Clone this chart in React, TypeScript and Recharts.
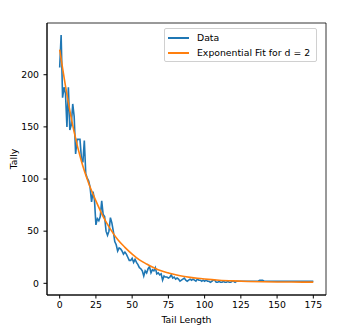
import React from 'react'
import { LineChart, Line, XAxis, YAxis, Legend, ReferenceArea } from 'recharts'

// observed tally per tail length (index = tail length)
const tally = [
  207, 238, 178, 188, 182, 150, 188, 147, 152, 172,
  160, 124, 138, 138, 138, 120, 116, 137, 105, 101,
  98, 92, 78, 88, 80, 56, 62, 60, 64, 79,
  66, 64, 50, 46, 50, 63, 58, 50, 40, 37,
  31, 34, 33, 31, 28, 30, 28, 25, 22, 22,
  24, 20, 23, 20, 18, 15, 14, 12, 7, 12,
  10, 14, 16, 10, 13, 12, 15, 9, 10, 8,
  9, 3, 7, 6, 6, 5, 6, 8, 5, 6,
  4, 5, 4, 2, 3, 4, 5, 3, 2, 3,
  4, 3, 4, 3, 2, 4, 3, 3, 2, 3,
  2, 3, 2, 2, 1, 2, 3, 3, 1, 1,
  2, 1, 1, 2, 1, 1, 2, 1, 1, 2,
  2, 1, 2, 2, 2, 2, 2, 2, 2, 2,
  2, 2, 2, 2, 2, 2, 2, 2, 3, 3,
  3, 2, 2, 2, 2, 2, 2, 2, 2, 2,
  2, 2, 2, 2, 2, 2, 2, 2, 2, 2,
  2, 2, 2, 2, 2, 2, 2, 2, 2, 2,
  2, 2, 2, 2, 2, 2,
]

// fitted curve
const fitX = [0, 5, 10, 15, 20, 25, 30, 35, 40, 45, 50, 55, 60, 65, 70, 75, 80, 85, 90, 95, 100, 110, 120, 130, 140, 150, 160, 175]
const fitY = [224, 181, 145, 117, 96, 79, 64, 52, 42, 34.5, 28, 22.5, 18.5, 15, 12, 10, 8.2, 6.8, 5.7, 4.8, 4.1, 3, 2.3, 1.8, 1.5, 1.3, 1.2, 1.1]

const xTicks = [0, 25, 50, 75, 100, 125, 150, 175]
const yTicks = [0, 50, 100, 150, 200]

const xDomain = [-8.75, 183.75]
const yDomain = [-11.2, 249.6]

const dataPoints = tally.map((v, i) => ({ x: i, y: v }))
const fitPoints = fitX.map((x, i) => ({ x, y: fitY[i] }))

const font = 'DejaVu Sans, sans-serif'
const tickStyle = { fontSize: 9.3, fill: '#000', fontFamily: font }

function LegendBox() {
  const row = (color: string, label: string) => (
    <div style={{ display: 'flex', alignItems: 'center', height: 15 }}>
      <span style={{ display: 'inline-block', width: 21, height: 2, background: color, marginRight: 8 }} />
      <span>{label}</span>
    </div>
  )
  return (
    <div
      style={{
        border: '1px solid #d0d0d0',
        borderRadius: 2,
        background: '#fff',
        padding: '1px 6px 1px 3px',
        fontFamily: font,
        fontSize: 9.3,
        color: '#000',
      }}
    >
      {row('#1f77b4', 'Data')}
      {row('#ff7f0e', 'Exponential Fit for d = 2')}
    </div>
  )
}

export default function App() {
  return (
    <div style={{ position: 'fixed', left: 0, top: 0, background: '#fff' }}>
      <LineChart width={346} height={333} margin={{ top: 23, right: 20, bottom: 0, left: 0 }}>
        <XAxis
          dataKey="x"
          type="number"
          domain={xDomain}
          ticks={xTicks}
          allowDataOverflow
          height={38}
          tick={tickStyle}
          tickSize={3.5}
          tickMargin={3}
          stroke="#000"
          label={{
            content: ({ viewBox }: any) => (
              <text
                x={viewBox.x + viewBox.width / 2}
                y={viewBox.y + viewBox.height - 10}
                textAnchor="middle"
                fontSize={9.3}
                fontFamily={font}
                fill="#000"
              >
                Tail Length
              </text>
            ),
          }}
        />
        <YAxis
          type="number"
          domain={yDomain}
          ticks={yTicks}
          allowDataOverflow
          width={47}
          tick={tickStyle}
          tickSize={3.5}
          tickMargin={4.5}
          stroke="#000"
          label={{
            content: ({ viewBox }: any) => {
              const cx = viewBox.x + 13
              const cy = viewBox.y + viewBox.height / 2
              return (
                <text
                  x={cx}
                  y={cy}
                  transform={`rotate(-90 ${cx} ${cy})`}
                  textAnchor="middle"
                  dominantBaseline="central"
                  fontSize={9.3}
                  fontFamily={font}
                  fill="#000"
                >
                  Tally
                </text>
              )
            },
          }}
        />
        <ReferenceArea
          x1={xDomain[0]}
          x2={xDomain[1]}
          y1={yDomain[0]}
          y2={yDomain[1]}
          fill="none"
          stroke="#000"
          strokeWidth={0.8}
        />
        <Line
          data={dataPoints}
          dataKey="y"
          type="linear"
          stroke="#1f77b4"
          strokeWidth={1.6}
          dot={false}
          isAnimationActive={false}
          name="Data"
        />
        <Line
          data={fitPoints}
          dataKey="y"
          type="monotone"
          stroke="#ff7f0e"
          strokeWidth={1.6}
          dot={false}
          isAnimationActive={false}
          name="Exponential Fit for d = 2"
        />
        <Legend
          layout="horizontal"
          verticalAlign="middle"
          align="center"
          wrapperStyle={{ top: 28, left: 164, width: 'auto' }}
          content={() => <LegendBox />}
        />
      </LineChart>
    </div>
  )
}
